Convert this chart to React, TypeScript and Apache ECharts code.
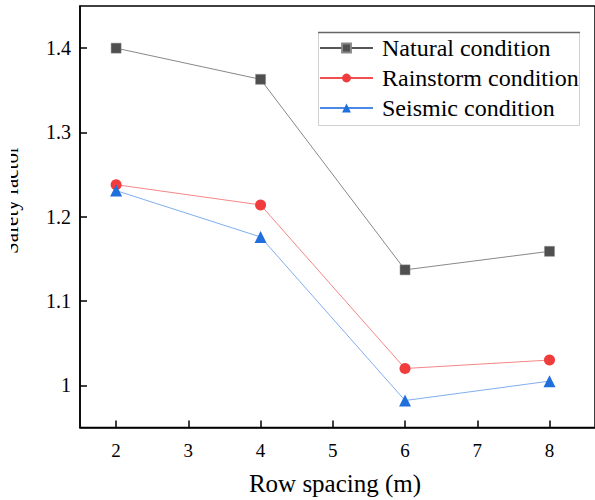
import React, { useEffect, useRef } from "react";
import * as echarts from "echarts";

const rowSpacing = [2, 4, 6, 8];
const xTicks = [2, 3, 4, 5, 6, 7, 8];
const yTicks = [1.0, 1.1, 1.2, 1.3, 1.4];
const natural = [1.4, 1.363, 1.137, 1.159];
const rainstorm = [1.238, 1.214, 1.02, 1.03];
const seismic = [1.231, 1.176, 0.982, 1.005];
const seriesNames = ["Natural condition", "Rainstorm condition", "Seismic condition"];

const FONT = "Liberation Serif";

const isTick = (v: number, list: number[]) => list.some((t) => Math.abs(t - v) < 1e-6);

export default function App() {
  const ref = useRef<HTMLDivElement>(null);
  useEffect(() => {
    if (!ref.current) return;
    const chart = echarts.init(ref.current, undefined, { renderer: "svg" });
    const pair = (vals: number[]) => rowSpacing.map((x, i) => [x, vals[i]]);
    chart.setOption({
      animation: false,
      backgroundColor: "#fff",
      textStyle: { fontFamily: FONT },
      grid: {
        left: 80,
        top: 6,
        width: 520,
        height: 421.5,
        show: true,
        borderColor: "#000",
        borderWidth: 1.5,
        containLabel: false,
      },
      xAxis: {
        type: "value",
        min: 1.5,
        max: 8.63,
        interval: 0.5,
        axisLine: { show: true, lineStyle: { color: "#000", width: 1.5 } },
        axisTick: { show: true, inside: true, length: 7, lineStyle: { color: "#000", width: 1.5 }, customValues: xTicks },
        axisLabel: {
          color: "#000",
          fontFamily: FONT,
          fontSize: 19,
          margin: 13,
          showMaxLabel: false,
          formatter: (v: number) => (isTick(v, xTicks) ? `{t|${Math.round(v)}}` : ""),
          rich: { t: { fontFamily: FONT, fontSize: 19, color: "#000" } },
        },
        splitLine: { show: false },
      },
      yAxis: {
        type: "value",
        min: 0.95,
        max: 1.45,
        interval: 0.05,
        axisLine: { show: true, lineStyle: { color: "#000", width: 1.5 } },
        axisTick: { show: true, inside: true, length: 7, lineStyle: { color: "#000", width: 1.5 }, customValues: yTicks },
        axisLabel: {
          color: "#000",
          fontFamily: FONT,
          fontSize: 20,
          margin: 9,
          formatter: (v: number) => (isTick(v, yTicks) ? `{t|${Math.round(v * 10) / 10}}` : ""),
          rich: { t: { fontFamily: FONT, fontSize: 20, color: "#000" } },
        },
        splitLine: { show: false },
      },
      legend: {
        orient: "vertical",
        left: 319,
        top: 36,
        padding: 0,
        itemWidth: 53,
        itemHeight: 11,
        itemGap: 6,
        data: seriesNames,
        textStyle: { color: "#000", fontFamily: FONT, fontSize: 24, lineHeight: 24, padding: [0, 0, 0, 4] },
      },
      graphic: [
        {
          type: "rect",
          shape: { x: 318.5, y: 32.5, width: 261, height: 93 },
          style: { fill: "none", stroke: "#d0d0d0", lineWidth: 1 },
          z: 0,
        },
        {
          type: "line",
          shape: { x1: 318, y1: 32.5, x2: 580, y2: 32.5 },
          style: { stroke: "#666", lineWidth: 1.5 },
          z: 1,
        },
        {
          type: "text",
          x: 335,
          y: 471,
          style: {
            text: "Row spacing (m)",
            font: `25px ${FONT}`,
            fill: "#000",
            textAlign: "center",
            textVerticalAlign: "top",
          },
        },
        {
          type: "text",
          x: 21,
          y: 200,
          rotation: Math.PI / 2,
          style: {
            text: "Safety factor",
            font: `21px ${FONT}`,
            fill: "#000",
            textAlign: "center",
            textVerticalAlign: "bottom",
          },
          z: 1,
        },
        {
          type: "rect",
          shape: { x: 0, y: 120, width: 11, height: 160 },
          style: { fill: "#fff" },
          z: 2,
        },
      ],
      series: [
        {
          name: seriesNames[0],
          type: "line",
          data: pair(natural),
          symbol: "rect",
          symbolSize: 10,
          itemStyle: { color: "#4f4f4f", borderColor: "#888", borderWidth: 0.5 },
          lineStyle: { color: "#555", width: 0.7 },
          z: 3,
        },
        {
          name: seriesNames[1],
          type: "line",
          data: pair(rainstorm),
          symbol: "circle",
          symbolSize: 11,
          itemStyle: { color: "#f03c3c" },
          lineStyle: { color: "#f25050", width: 0.7 },
          z: 3,
        },
        {
          name: seriesNames[2],
          type: "line",
          data: pair(seismic),
          symbol: "triangle",
          symbolSize: 12,
          itemStyle: { color: "#1f6fdc" },
          lineStyle: { color: "#4a8ae6", width: 0.7 },
          z: 4,
        },
      ],
    });
    return () => chart.dispose();
  }, []);
  return <div ref={ref} style={{ width: 595, height: 500, position: "absolute", left: 0, top: 0 }} />;
}
